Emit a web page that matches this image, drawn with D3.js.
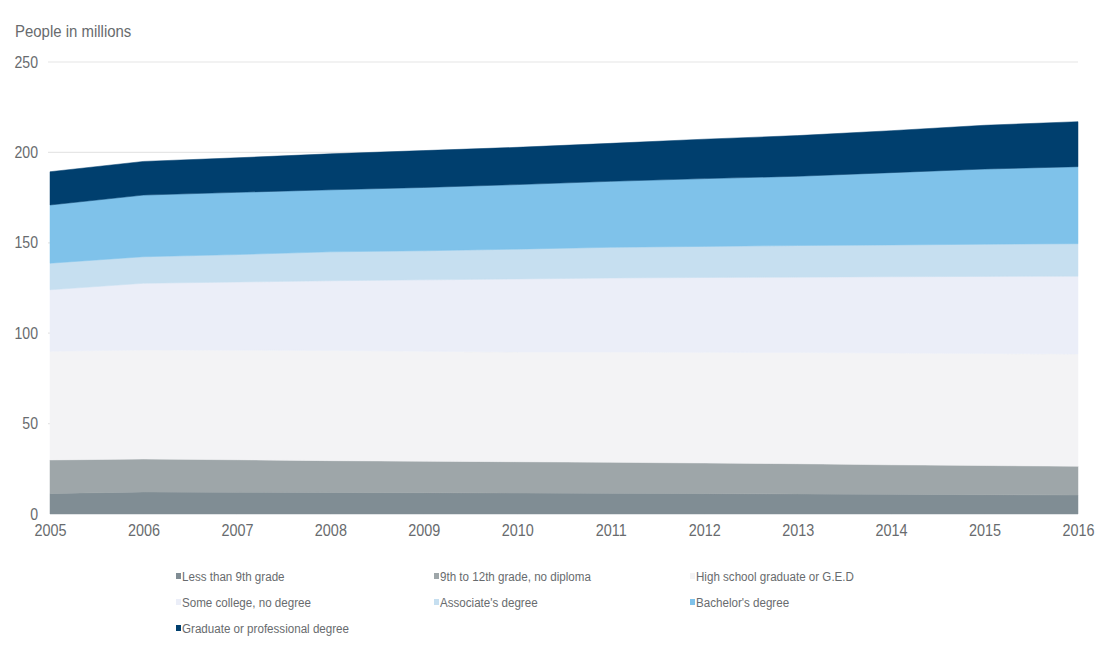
<!DOCTYPE html>
<html>
<head>
<meta charset="utf-8">
<script src="https://cdn.jsdelivr.net/npm/d3@7"></script>
<style>
  html, body { margin: 0; padding: 0; background: #fff; }
  svg text { font-family: "Liberation Sans", Arial, sans-serif; fill: #686b6e; }
</style>
</head>
<body>
<svg id="chart" width="1099" height="652"></svg>
<script>
// Population aged 25+ by educational attainment, millions
const years = [2005, 2006, 2007, 2008, 2009, 2010, 2011, 2012, 2013, 2014, 2015, 2016];
const lessThan9th   = [11.4, 12.2, 12.0, 11.9, 11.8, 11.6, 11.5, 11.3, 11.1, 10.9, 10.7, 10.5];
const grade9to12    = [18.5, 18.2, 18.0, 17.6, 17.4, 17.3, 17.1, 16.9, 16.7, 16.3, 16.1, 15.9];
const highSchool    = [60.1, 60.3, 60.6, 60.9, 60.8, 60.7, 61.0, 61.2, 61.5, 61.8, 62.0, 62.1];
const someCollege   = [34.0, 36.9, 37.7, 38.6, 39.5, 40.4, 40.9, 41.4, 41.7, 42.2, 42.6, 43.0];
const associate     = [14.7, 14.7, 15.2, 16.0, 16.1, 16.5, 17.0, 17.2, 17.5, 17.6, 17.8, 18.0];
const bachelor      = [32.2, 34.1, 34.4, 34.3, 35.0, 35.7, 36.5, 37.5, 38.3, 40.0, 41.6, 42.6];
const graduate      = [18.4, 18.6, 19.1, 19.9, 20.4, 20.6, 21.0, 21.8, 22.5, 23.2, 24.2, 24.9];

const seriesNames = [
  "Less than 9th grade",
  "9th to 12th grade, no diploma",
  "High school graduate or G.E.D",
  "Some college, no degree",
  "Associate's degree",
  "Bachelor's degree",
  "Graduate or professional degree"
];
const seriesValues = [lessThan9th, grade9to12, highSchool, someCollege, associate, bachelor, graduate];
const seriesColors = ["#808d94", "#9ea6a9", "#f3f3f5", "#ebeef8", "#c6dff0", "#7fc2ea", "#003f6e"];
const yTicks = [0, 50, 100, 150, 200, 250];

const rows = years.map((yr, i) => {
  const r = { year: yr };
  seriesNames.forEach((n, k) => { r[n] = seriesValues[k][i]; });
  return r;
});

const svg = d3.select("#chart");
const plot = { left: 50, right: 1078, top: 62, bottom: 514 };

const x = d3.scaleLinear().domain([2005, 2016]).range([plot.left, plot.right]);
const y = d3.scaleLinear().domain([0, 250]).range([plot.bottom, plot.top]);

// narrow rendering of a label: text is squeezed horizontally about its anchor
function narrow(sel, k) {
  sel.each(function () {
    const t = d3.select(this);
    const tx = +t.attr("x") || 0;
    t.attr("transform", `translate(${tx},0) scale(${k},1) translate(${-tx},0)`);
  });
}

// title
svg.append("text")
  .attr("x", 15).attr("y", 37)
  .style("font-size", "17px")
  .text("People in millions")
  .call(narrow, 0.88);

// horizontal gridlines behind the areas
svg.append("g").selectAll("line")
  .data(yTicks.filter(d => d > 0))
  .join("line")
  .attr("x1", plot.left - 2).attr("x2", plot.right)
  .attr("y1", d => y(d)).attr("y2", d => y(d))
  .attr("stroke", "#e6e6e6").attr("stroke-width", 1.2);

// stacked areas
const stack = d3.stack().keys(seriesNames);
const layers = stack(rows);
const area = d3.area()
  .x(d => x(d.data.year))
  .y0(d => y(d[0]))
  .y1(d => y(d[1]));

svg.append("g").selectAll("path")
  .data(layers)
  .join("path")
  .attr("d", area)
  .attr("fill", (d, i) => seriesColors[i])
  .attr("stroke", (d, i) => seriesColors[i])
  .attr("stroke-width", 0.5);

// y axis labels
const yAxis = d3.axisLeft(y).tickValues(yTicks).tickSize(0).tickPadding(0);
const gy = svg.append("g").attr("transform", `translate(${38},0)`).call(yAxis);
gy.select(".domain").remove();
gy.selectAll("text").style("font-size", "16px").attr("fill", "#686b6e").call(narrow, 0.88);

// x axis labels
const xAxis = d3.axisBottom(x).tickValues(years).tickFormat(d3.format("d")).tickSize(0).tickPadding(0);
const gx = svg.append("g").attr("transform", `translate(0,${plot.bottom + 11})`).call(xAxis);
gx.select(".domain").remove();
gx.selectAll("text").style("font-size", "16px").attr("fill", "#686b6e").call(narrow, 0.9);

// legend: three columns
const legendX = [176, 434, 690];
const legendY = [577, 603, 629];
const legend = svg.append("g");
seriesNames.forEach((name, i) => {
  const col = i % 3, row = Math.floor(i / 3);
  const g = legend.append("g").attr("transform", `translate(${legendX[col]},${legendY[row]})`);
  g.append("rect")
    .attr("x", 0).attr("y", -4)
    .attr("width", 5).attr("height", 6)
    .attr("fill", seriesColors[i]);
  g.append("text")
    .attr("x", 6).attr("y", 0)
    .attr("dy", "0.32em")
    .style("font-size", "13.5px")
    .text(name)
    .call(narrow, 0.86);
});
</script>
</body>
</html>
